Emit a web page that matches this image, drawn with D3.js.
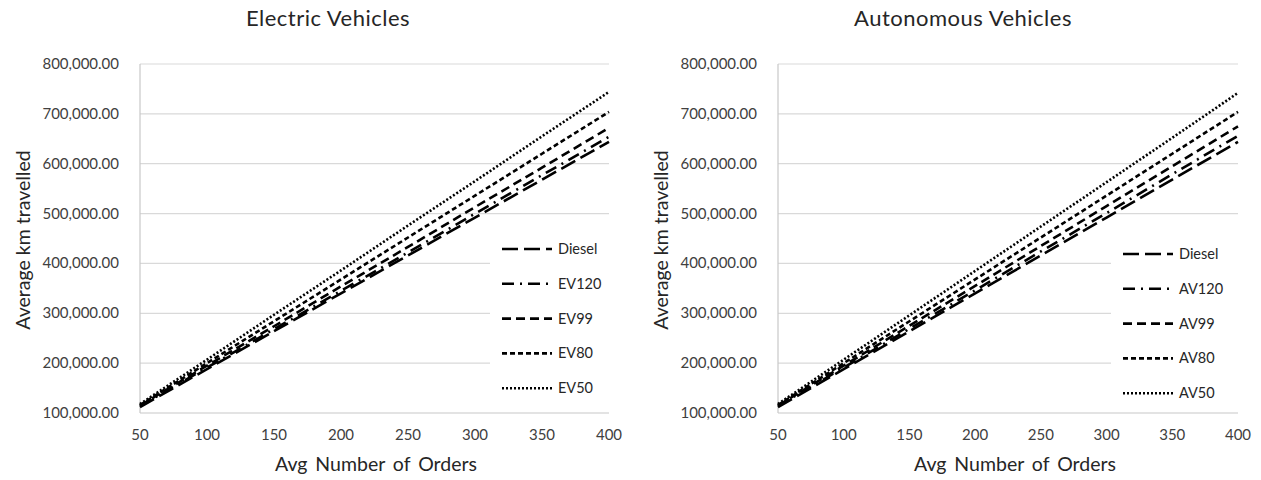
<!DOCTYPE html>
<html>
<head>
<meta charset="utf-8">
<script src="https://cdn.jsdelivr.net/npm/d3@7"></script>
<style>
  body { margin: 0; background: #fff; }
  svg { display: block; font-family: Lato, "Open Sans", sans-serif; }
</style>
</head>
<body>
<svg id="chart" width="1261" height="480"></svg>
<script>
// values (km travelled per avg number of orders)
var orders = [50, 100, 150, 200, 250, 300, 350, 400];
var diesel = [112000, 188000, 264000, 340000, 416000, 492000, 568000, 644000];
var ev120 = [114000, 191000, 268000, 345000, 422000, 500000, 577000, 654000];
var ev99 = [115000, 195000, 274000, 354000, 433000, 513000, 592000, 672000];
var ev80 = [116000, 200000, 284000, 368000, 452000, 536000, 620000, 704000];
var ev50 = [118000, 207000, 297000, 386000, 476000, 565000, 655000, 744000];
var av120 = [114000, 191000, 269000, 346000, 424000, 501000, 579000, 656000];
var av99 = [115000, 195000, 275000, 355000, 435000, 515000, 595000, 675000];
var av80 = [116000, 200000, 284000, 368000, 452000, 536000, 620000, 704000];
var av50 = [118000, 207000, 296000, 385000, 474000, 563000, 652000, 742000];

var yTicks = [100000, 200000, 300000, 400000, 500000, 600000, 700000, 800000];
var xTicks = [50, 100, 150, 200, 250, 300, 350, 400];

var dashes = ['16,6', '12,6,2,6', '9,5', '5,3', '2,2'];

var svg = d3.select('#chart');

function drawChart(cfg) {
    var g = svg.append('g');

    var x = d3.scaleLinear().domain([50, 400]).range([cfg.left, cfg.right]);
    var y = d3.scaleLinear().domain([100000, 800000]).range([413, 64]);

    // gridlines
    g.selectAll('.grid').data(yTicks).enter().append('line')
        .attr('x1', cfg.left).attr('x2', cfg.right)
        .attr('y1', function (d) { return y(d); }).attr('y2', function (d) { return y(d); })
        .attr('stroke', function (d) { return d === 100000 ? '#c8c8c8' : '#d9d9d9'; })
        .attr('stroke-width', 1.2);

    // left axis line
    g.append('line')
        .attr('x1', cfg.left).attr('x2', cfg.left)
        .attr('y1', y(800000)).attr('y2', y(100000))
        .attr('stroke', '#c8c8c8').attr('stroke-width', 1.2);

    // y tick labels
    g.selectAll('.yl').data(yTicks).enter().append('text')
        .attr('x', cfg.left - 21).attr('y', function (d) { return y(d) + 5; })
        .attr('text-anchor', 'end').attr('font-size', 15).attr('fill', '#404040')
        .text(d3.format(',.2f'));

    // x tick labels
    g.selectAll('.xl').data(xTicks).enter().append('text')
        .attr('x', function (d) { return x(d); }).attr('y', 440)
        .attr('text-anchor', 'middle').attr('font-size', 15).attr('fill', '#404040')
        .text(function (d) { return d; });

    // title and axis titles
    g.append('text').attr('x', cfg.titleX).attr('y', 26)
        .attr('text-anchor', 'middle').attr('font-size', 22).attr('letter-spacing', 0.5)
        .attr('fill', '#262626')
        .text(cfg.title);
    g.append('text').attr('x', cfg.xTitleX).attr('y', 471)
        .attr('text-anchor', 'middle').attr('font-size', 19.5).attr('word-spacing', 3)
        .attr('fill', '#262626')
        .text('Avg Number of Orders');
    g.append('text')
        .attr('transform', 'translate(' + cfg.yTitleX + ',240) rotate(-90)')
        .attr('text-anchor', 'middle').attr('font-size', 19.5).attr('fill', '#262626')
        .text('Average km travelled');

    // series lines
    var line = d3.line()
        .x(function (d, i) { return x(orders[i]); })
        .y(function (d) { return y(d); });

    cfg.series.forEach(function (s, i) {
        g.append('path').datum(s)
            .attr('d', line)
            .attr('fill', 'none')
            .attr('stroke', '#000')
            .attr('stroke-width', 2.6)
            .attr('stroke-dasharray', dashes[i]);
    });

    // legend
    var lg = g.append('g');
    lg.append('rect')
        .attr('x', cfg.legX - 12).attr('y', cfg.legY - 17)
        .attr('width', cfg.right - cfg.legX + 12).attr('height', 172)
        .attr('fill', '#fff');
    cfg.names.forEach(function (n, i) {
        var ly = cfg.legY + i * 34.8;
        lg.append('line')
            .attr('x1', cfg.legX).attr('x2', cfg.legX + 50)
            .attr('y1', ly).attr('y2', ly)
            .attr('stroke', '#000').attr('stroke-width', 2.6)
            .attr('stroke-dasharray', dashes[i]);
        lg.append('text')
            .attr('x', cfg.legX + 56).attr('y', ly + 5)
            .attr('font-size', 14.5).attr('fill', '#262626')
            .text(n);
    });
}

drawChart({
    left: 140, right: 609,
    title: 'Electric Vehicles', titleX: 328,
    xTitleX: 376, yTitleX: 30,
    series: [diesel, ev120, ev99, ev80, ev50],
    names: ['Diesel', 'EV120', 'EV99', 'EV80', 'EV50'],
    legX: 502, legY: 249
});

drawChart({
    left: 778, right: 1238,
    title: 'Autonomous Vehicles', titleX: 963,
    xTitleX: 1015, yTitleX: 668,
    series: [diesel, av120, av99, av80, av50],
    names: ['Diesel', 'AV120', 'AV99', 'AV80', 'AV50'],
    legX: 1123, legY: 254
});
</script>
</body>
</html>
